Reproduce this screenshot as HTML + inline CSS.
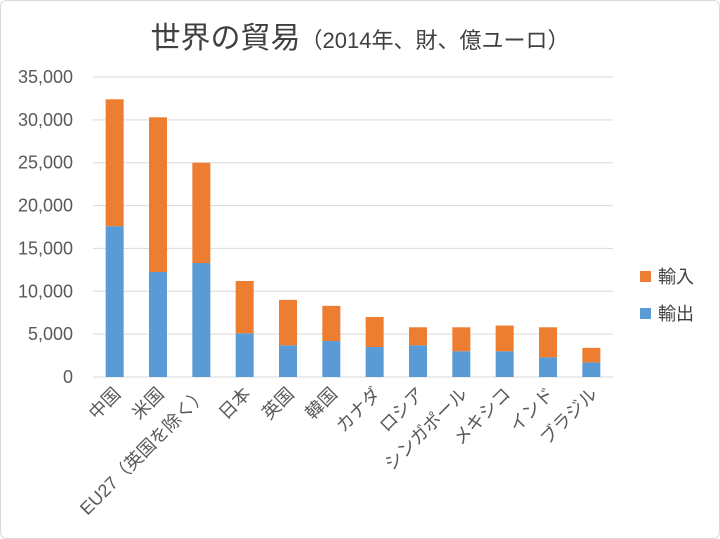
<!DOCTYPE html>
<html><head><meta charset="utf-8">
<style>
html,body{margin:0;padding:0;background:#fff;}
svg{display:block;font-family:"Liberation Sans","Noto Sans CJK JP",sans-serif;}
</style></head>
<body>
<svg id="chart" width="720" height="539">
<rect x="0.5" y="0.5" width="719" height="538" rx="6" fill="#fff" stroke="#d9d9d9"/>
<text x="360" y="48" text-anchor="middle" fill="#404040"><tspan font-size="30">世界の貿易</tspan><tspan font-size="22">（2014年、財、億ユーロ）</tspan></text>
<g id="grid"></g><g id="bars"></g><g id="labels"></g>
<g>
<rect x="640" y="271" width="11" height="11" fill="#ED7D31"/>
<text x="658" y="283" font-size="18" fill="#404040">輸入</text>
<rect x="640" y="308" width="11" height="11" fill="#5B9BD5"/>
<text x="658" y="320" font-size="18" fill="#404040">輸出</text>
</g>
</svg>
<script>
const categories=["中国","米国","EU27（英国を除く）","日本","英国","韓国","カナダ","ロシア","シンガポール","メキシコ","インド","ブラジル"];
const exportsVal=[17600,12250,13300,5100,3700,4200,3500,3700,3000,3000,2300,1700];
const importsVal=[14800,18050,11700,6100,5300,4100,3500,2100,2800,3000,3500,1700];
const yTicks=[0,5000,10000,15000,20000,25000,30000,35000];
const yTickLabels=["0","5,000","10,000","15,000","20,000","25,000","30,000","35,000"];
const NS="http://www.w3.org/2000/svg";
const x0=93,x1=613,y0=377,yTop=77,yMax=35000;
const y=v=>y0-(v/yMax)*(y0-yTop);
const step=(x1-x0)/categories.length;
const xc=i=>x0+step*(i+0.5);
function mk(t,a,p){const e=document.createElementNS(NS,t);for(const k in a)e.setAttribute(k,a[k]);p.appendChild(e);return e;}
const grid=document.getElementById('grid'),bars=document.getElementById('bars'),labels=document.getElementById('labels');
yTicks.forEach((v,i)=>{
 const l=mk('line',{x1:x0,x2:x1,y1:y(v),y2:y(v),stroke:'#d9d9d9','stroke-width':1},grid);
 
 
 const t=mk('text',{x:73,y:y(v)+6,'text-anchor':'end','font-size':18,fill:'#595959'},grid);
 t.textContent=yTickLabels[i];
 
 
});
const bw=18;
categories.forEach((c,i)=>{
 const e=mk('rect',{x:xc(i)-bw/2,y:y(exportsVal[i]),width:bw,height:y0-y(exportsVal[i]),fill:'#5B9BD5'},bars);
 
 
 const tot=exportsVal[i]+importsVal[i];
 const m=mk('rect',{x:xc(i)-bw/2,y:y(tot),width:bw,height:y(exportsVal[i])-y(tot),fill:'#ED7D31'},bars);
 
 
 const t=mk('text',{x:xc(i)+7,y:395,'text-anchor':'end','font-size':18,fill:'#595959',transform:`rotate(-45 ${xc(i)+7} 395)`},labels);
 t.textContent=c;
 
 
});
</script>
</body></html>
